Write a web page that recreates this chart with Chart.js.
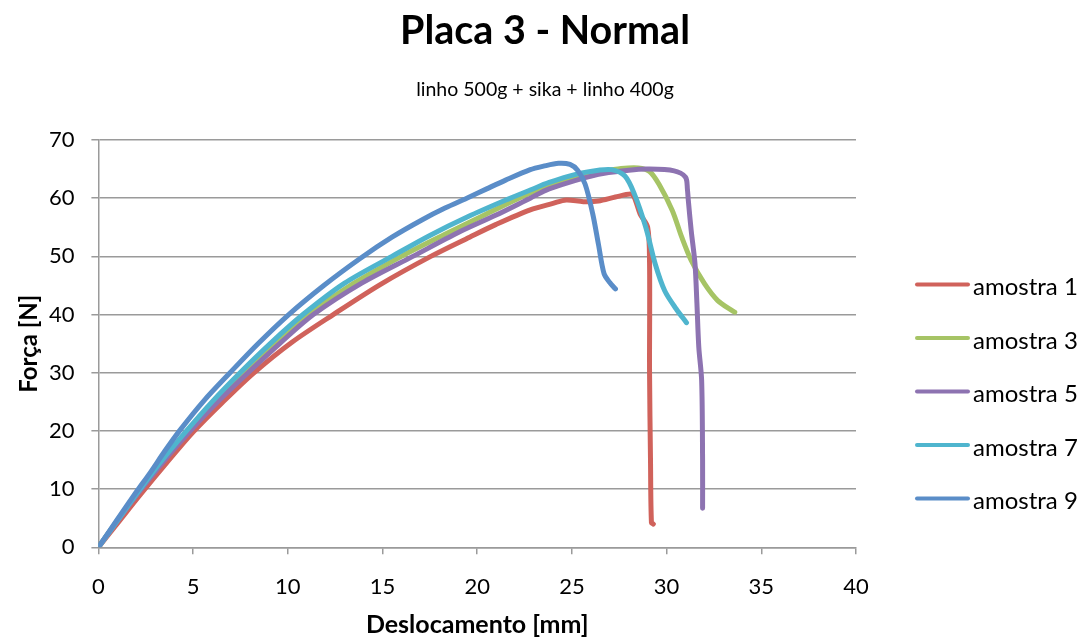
<!DOCTYPE html>
<html>
<head>
<meta charset="utf-8">
<script src="https://cdn.jsdelivr.net/npm/chart.js@4.4.0/dist/chart.umd.min.js"></script>
<style>
  html, body { margin: 0; padding: 0; background: #fff; }
  #wrap { width: 1088px; height: 641px; }
</style>
</head>
<body>
<div id="wrap"><canvas id="grafico" width="1088" height="641"></canvas></div>
<script>
// Dados (deslocamento em mm, força em N)
const titulo = 'Placa 3 - Normal';
const subtitulo = 'linho 500g + sika + linho 400g';
const nomes = ['amostra 1', 'amostra 3', 'amostra 5', 'amostra 7', 'amostra 9'];
const cores = ['#d0625b', '#a6c465', '#8d73b1', '#4fb5ce', '#5a8dc8'];

const a1X = [0, 1.1, 2.2, 3.6, 5.0, 6.55, 8.18, 10.2, 12.4, 14.9, 17.55, 19.6, 21.0, 22.8, 24.0, 24.7, 25.6, 26.4, 27.3, 28.1, 28.3, 28.6, 29.0, 29.1, 29.1, 29.15, 29.2, 29.3];
const a1Y = [0, 4.5, 9, 14.5, 19.8, 24.9, 29.9, 35.2, 40, 45.2, 50, 53.3, 55.5, 58.0, 59.1, 59.7, 59.4, 59.5, 60.2, 60.7, 60.1, 57.3, 55.0, 48.8, 30, 15, 4.2, 4.0];

const a3X = [0, 1, 2, 3.35, 4.75, 6.15, 7.7, 9.35, 11.1, 13.45, 16.0, 18.3, 20.3, 22.2, 23.8, 25.2, 26.4, 27.6, 28.5, 29.1, 29.6, 30.3, 30.8, 31.3, 32.0, 32.7, 33.5, 33.6];
const a3Y = [0, 4.55, 9.0, 14.65, 20, 25, 30, 35.1, 40, 45.3, 50, 53.8, 57.0, 60.0, 62.3, 63.8, 64.5, 65.1, 65.2, 64.6, 62.4, 57.9, 53.3, 49.3, 45.3, 42.4, 40.6, 40.4];

const a5X = [0, 1, 2, 3.4, 4.85, 6.3, 7.9, 9.6, 11.35, 13.9, 16.6, 19.0, 21.0, 22.8, 23.8, 26.4, 28.0, 29.0, 30.4, 31.0, 31.1, 31.15, 31.3, 31.5, 31.6, 31.7, 31.85, 31.9, 31.9];
const a5Y = [0, 4.5, 8.9, 14.6, 20, 25, 30, 35.1, 40, 45.4, 50, 54.1, 57.1, 60.0, 61.6, 64.1, 64.8, 65.0, 64.7, 63.6, 61.5, 59.5, 54.4, 48.7, 42, 34.4, 28.7, 15, 6.7];

const a7X = [0, 1, 2, 3.3, 4.65, 6.0, 7.48, 9.1, 10.8, 13.0, 15.5, 17.5, 19.5, 21.6, 22.8, 23.8, 25.2, 26.4, 27.1, 27.8, 28.3, 28.9, 29.4, 29.9, 30.5, 31.05];
const a7Y = [0, 4.6, 9.1, 14.7, 20, 25, 30, 35.1, 40, 45.4, 50, 53.6, 56.8, 59.8, 61.4, 62.7, 64.1, 64.8, 64.9, 63.8, 60.7, 55.0, 48.7, 44.1, 41.0, 38.6];

const a9X = [0, 1, 2, 2.73, 3.5, 4.3, 5.6, 6.95, 8.4, 10.05, 11.9, 13.8, 15.5, 17.1, 18.3, 19.45, 20.5, 21.5, 22.8, 23.5, 24.3, 24.9, 25.3, 25.7, 26.1, 26.4, 26.7, 27.0, 27.3];
const a9Y = [0, 4.8, 9.5, 12.8, 16.5, 20.1, 25.3, 30, 34.9, 40, 45.0, 49.6, 53.3, 56.3, 58.3, 60, 61.6, 63.1, 64.9, 65.5, 66.0, 65.8, 64.8, 62.4, 57.3, 52.1, 47.0, 45.5, 44.4];

const seriesX = [a1X, a3X, a5X, a7X, a9X];
const seriesY = [a1Y, a3Y, a5Y, a7Y, a9Y];

const fonte = 'Lato, "Open Sans", sans-serif';

// monta os pontos {x, y}
function pontos(xs, ys) {
  return xs.map((x, i) => ({ x: x, y: ys[i] }));
}

const datasets = nomes.map((nome, i) => ({
  label: nome,
  data: pontos(seriesX[i], seriesY[i]),
  borderColor: cores[i],
  backgroundColor: cores[i],
  borderWidth: 5,
  borderCapStyle: 'round',
  borderJoinStyle: 'round',
  pointRadius: 0,
  showLine: true,
  tension: 0.3,
  order: nomes.length - i   // a última amostra fica por cima
}));

// título e subtítulo centrados na imagem toda
const cabecalho = {
  id: 'cabecalho',
  afterDraw(chart) {
    const ctx = chart.ctx;
    ctx.save();
    ctx.fillStyle = '#000';
    ctx.textAlign = 'center';
    ctx.textBaseline = 'middle';
    ctx.font = 'bold 39.5px ' + fonte;
    ctx.fillText(titulo, 545, 31);
    ctx.font = '19.5px ' + fonte;
    ctx.fillText(subtitulo, 545, 90);
    ctx.restore();
  }
};

// legenda à direita, como no Excel
const legendaDireita = {
  id: 'legendaDireita',
  afterDraw(chart) {
    const ctx = chart.ctx;
    ctx.save();
    ctx.font = '24px ' + fonte;
    ctx.textBaseline = 'middle';
    ctx.textAlign = 'left';
    chart.data.datasets.forEach((ds, i) => {
      const y = 284.5 + i * 53.5;
      ctx.strokeStyle = ds.borderColor;
      ctx.lineWidth = 4;
      ctx.lineCap = 'round';
      ctx.beginPath();
      ctx.moveTo(917, y);
      ctx.lineTo(968, y);
      ctx.stroke();
      ctx.fillStyle = '#000';
      ctx.fillText(ds.label, 973, y + 3);
    });
    ctx.restore();
  }
};

const ctx = document.getElementById('grafico').getContext('2d');
const grafico = new Chart(ctx, {
  type: 'scatter',
  data: { datasets: datasets },
  options: {
    responsive: false,
    animation: false,
    layout: { padding: { top: 140, left: 0, right: 232, bottom: 0 } },
    plugins: {
      legend: { display: false },
      tooltip: { enabled: false }
    },
    scales: {
      x: {
        type: 'linear',
        min: 0,
        max: 40,
        ticks: { stepSize: 5, color: '#000', padding: 19, font: { family: fonte, size: 22 } },
        grid: { drawOnChartArea: false, drawTicks: true, tickLength: 7, color: '#9a9a9a', lineWidth: 1.5 },
        border: { display: true, color: '#9a9a9a', width: 1.5 },
        title: {
          display: true,
          text: 'Deslocamento [mm]',
          color: '#000',
          font: { family: fonte, size: 25, weight: 'bold' },
          padding: { top: 0, bottom: 1 }
        },
        afterFit: (scale) => { scale.height = 93.7; }
      },
      y: {
        type: 'linear',
        min: 0,
        max: 70,
        ticks: { stepSize: 10, color: '#000', padding: 17, font: { family: fonte, size: 22 } },
        grid: { drawTicks: true, tickLength: 7, color: '#9a9a9a', lineWidth: 1.5 },
        border: { display: true, color: '#9a9a9a', width: 1.5 },
        title: {
          display: true,
          text: 'Força [N]',
          color: '#000',
          font: { family: fonte, size: 24, weight: 'bold' },
          padding: { top: 15, bottom: 0 }
        },
        afterFit: (scale) => { scale.width = 98.4; }
      }
    }
  },
  plugins: [cabecalho, legendaDireita]
});
</script>
</body>
</html>
